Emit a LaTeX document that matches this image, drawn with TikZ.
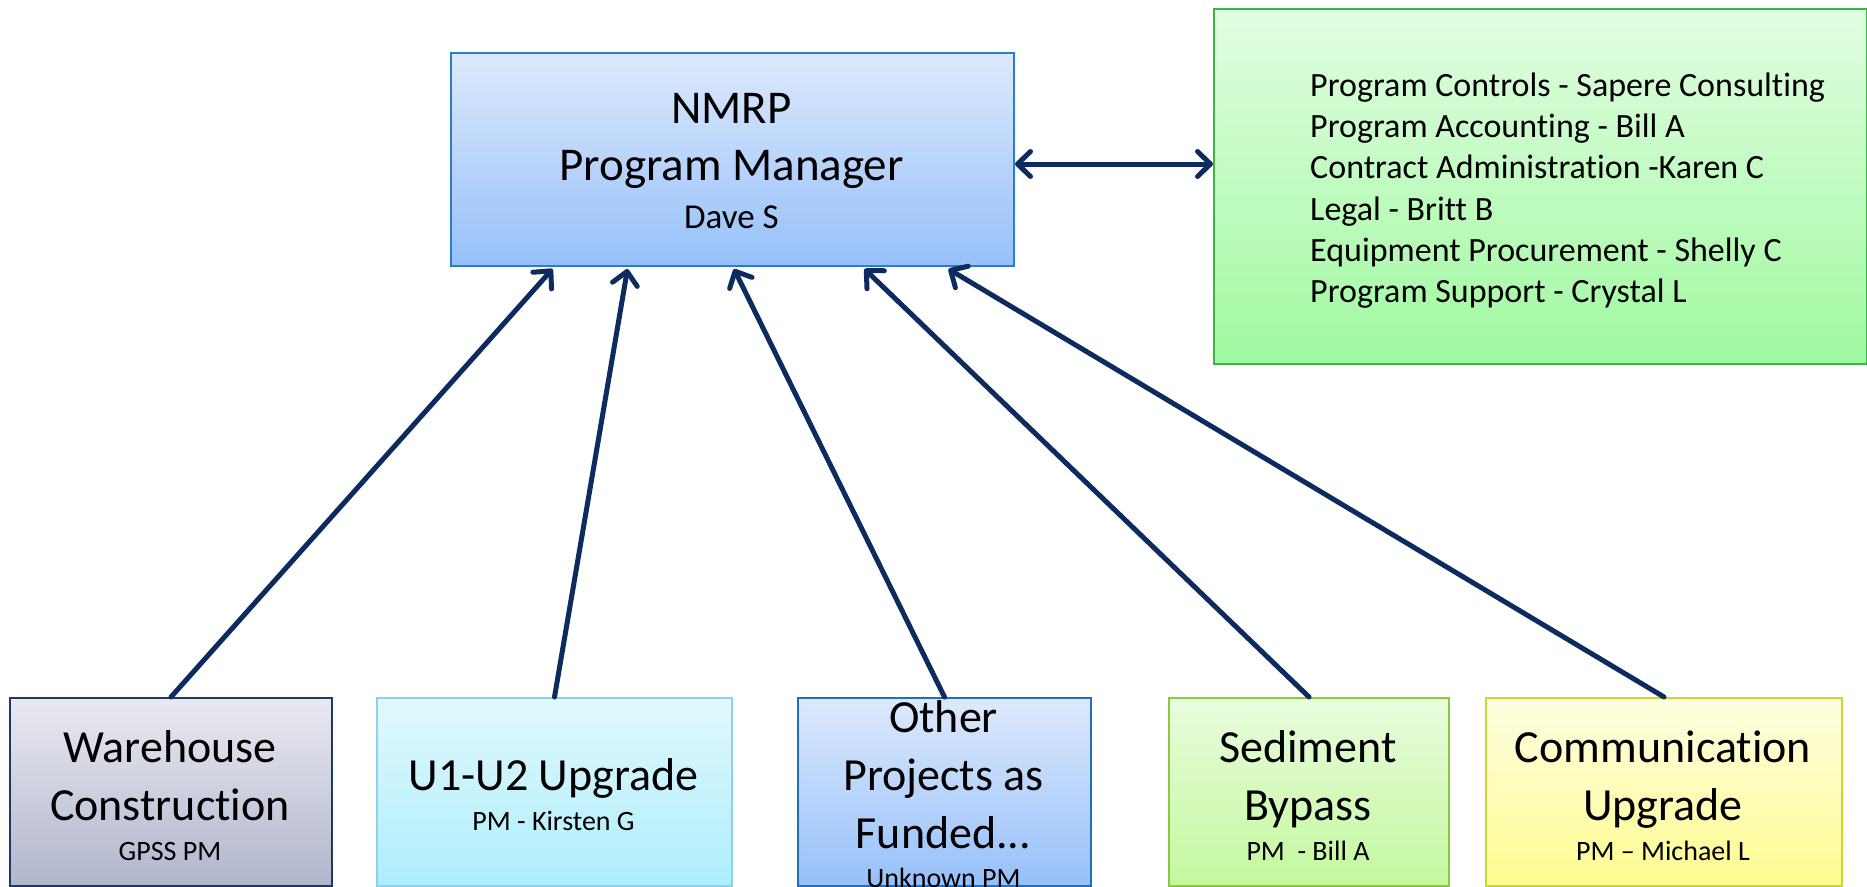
\documentclass[tikz,border=0pt]{standalone}
\usepackage{fontspec}
\setmainfont[Ligatures=NoCommon]{Carlito}
\usetikzlibrary{arrows.meta}
\definecolor{arrowc}{HTML}{0D2B5E}
\definecolor{pmtop}{HTML}{DDE9FC}
\definecolor{pmbot}{HTML}{96C0FA}
\definecolor{pmline}{HTML}{2A7ECF}
\definecolor{suptop}{HTML}{E2FDE2}
\definecolor{supbot}{HTML}{A0F9A0}
\definecolor{supline}{HTML}{3CB44A}
\definecolor{whtop}{HTML}{E9E9F1}
\definecolor{whbot}{HTML}{B1B6CC}
\definecolor{whline}{HTML}{1F3864}
\definecolor{uatop}{HTML}{E2F8FD}
\definecolor{uabot}{HTML}{ADEEFC}
\definecolor{ualine}{HTML}{8ED0F0}
\definecolor{othline}{HTML}{1F6EC0}
\definecolor{sedtop}{HTML}{E9FCDD}
\definecolor{sedbot}{HTML}{C3F89E}
\definecolor{sedline}{HTML}{8DC63F}
\definecolor{comtop}{HTML}{FEFEE2}
\definecolor{combot}{HTML}{FDFB8E}
\definecolor{comline}{HTML}{C5D92E}
\newcommand\bigtitlefont{\fontsize{47}{56}\selectfont}
\newcommand\boxtitlefont{\fontsize{46}{56}\selectfont}
\newcommand\subnamefont{\fontsize{28}{34}\selectfont}
\newcommand\pmnamefont{\fontsize{35}{42}\selectfont}
\newcommand\listfont{\fontsize{34}{41}\selectfont}
\begin{document}
\begin{tikzpicture}[x=1pt,y=-1pt,
  box/.style={draw, line width=2pt, anchor=north west, inner sep=0pt},
  txt/.style={anchor=base, inner sep=0pt, text=black},
  ltxt/.style={anchor=base west, inner sep=0pt, text=black, font=\listfont},
  conn/.style={draw=arrowc, line width=5pt, line cap=round,
    -{Straight Barb[length=13pt, width=25pt, round]}},
  conn2/.style={draw=arrowc, line width=5pt, line cap=round,
    {Straight Barb[length=13pt, width=25pt, round]}-{Straight Barb[length=13pt, width=25pt, round]}}]
\useasboundingbox (0,0) rectangle (1867,886);
% boxes
\node[box, draw=pmline, top color=pmtop, bottom color=pmbot,
  minimum width=563pt, minimum height=213pt] (pm) at (450,52) {};
\node[box, draw=supline, top color=suptop, bottom color=supbot,
  minimum width=653pt, minimum height=355pt] (sup) at (1213,8) {};
\node[box, draw=whline, top color=whtop, bottom color=whbot,
  minimum width=322pt, minimum height=188pt] (wh) at (9,697) {};
\node[box, draw=ualine, top color=uatop, bottom color=uabot,
  minimum width=355pt, minimum height=188pt] (ua) at (376,697) {};
\node[box, draw=othline, top color=pmtop, bottom color=pmbot,
  minimum width=293pt, minimum height=188pt] (oth) at (797,697) {};
\node[box, draw=sedline, top color=sedtop, bottom color=sedbot,
  minimum width=280pt, minimum height=188pt] (sed) at (1168,697) {};
\node[box, draw=comline, top color=comtop, bottom color=combot,
  minimum width=356pt, minimum height=188pt] (com) at (1485,697) {};
% main box text
\node[txt, font=\bigtitlefont] (pm1) at (731.5,123) {NMRP};
\node[txt, font=\bigtitlefont] (pm2) at (731.5,180) {Program Manager};
\node[txt, font=\pmnamefont] (pm3) at (731.5,228) {Dave S};
% support list
\node[ltxt] (s1) at (1310,96) {Program Controls - Sapere Consulting};
\node[ltxt] (s2) at (1310,137) {Program Accounting - Bill A};
\node[ltxt] (s3) at (1310,178) {Contract Administration -Karen C};
\node[ltxt] (s4) at (1310,220) {Legal - Britt B};
\node[ltxt] (s5) at (1310,261) {Equipment Procurement - Shelly C};
\node[ltxt] (s6) at (1310,302) {Program Support - Crystal L};
% bottom box texts
\node[txt, font=\boxtitlefont] (wh1) at (170,762) {Warehouse};
\node[txt, font=\boxtitlefont] (wh2) at (170,820) {Construction};
\node[txt, font=\subnamefont] (wh3) at (170,860) {GPSS PM};
\node[txt, font=\boxtitlefont] (ua1) at (553.5,790) {U1-U2 Upgrade};
\node[txt, font=\subnamefont] (ua2) at (553.5,830) {PM - Kirsten G};
\node[txt, font=\boxtitlefont] (oth1) at (943.5,732) {Other};
\node[txt, font=\boxtitlefont] (oth2) at (943.5,790) {Projects as};
\node[txt, font=\boxtitlefont] (oth3) at (943.5,848) {Funded...};
\node[txt, font=\subnamefont] (oth4) at (943.5,887) {Unknown PM};
\node[txt, font=\boxtitlefont] (sed1) at (1308,762) {Sediment};
\node[txt, font=\boxtitlefont] (sed2) at (1308,820) {Bypass};
\node[txt, font=\subnamefont] (sed3) at (1308,860) {PM\ \ - Bill A};
\node[txt, font=\boxtitlefont] (com1) at (1663,762) {Communication};
\node[txt, font=\boxtitlefont] (com2) at (1663,820) {Upgrade};
\node[txt, font=\subnamefont] (com3) at (1663,860) {PM – Michael L};
% connectors
\draw[conn] (wh.north) -- ([xshift=-180pt, yshift=-2pt]pm.south);
\draw[conn] (ua.north) -- ([xshift=-105pt, yshift=-2pt]pm.south);
\draw[conn] (oth.north) -- ([xshift=1.5pt, yshift=-2pt]pm.south);
\draw[conn] (sed.north) -- ([xshift=132pt, yshift=-2pt]pm.south);
\draw[conn] (com.north) -- ([xshift=216pt, yshift=-2pt]pm.south);
\draw[conn2] ([yshift=-4.5pt]pm.east) -- ([yshift=-4.5pt]pm.east -| sup.west);
\end{tikzpicture}
\end{document}
